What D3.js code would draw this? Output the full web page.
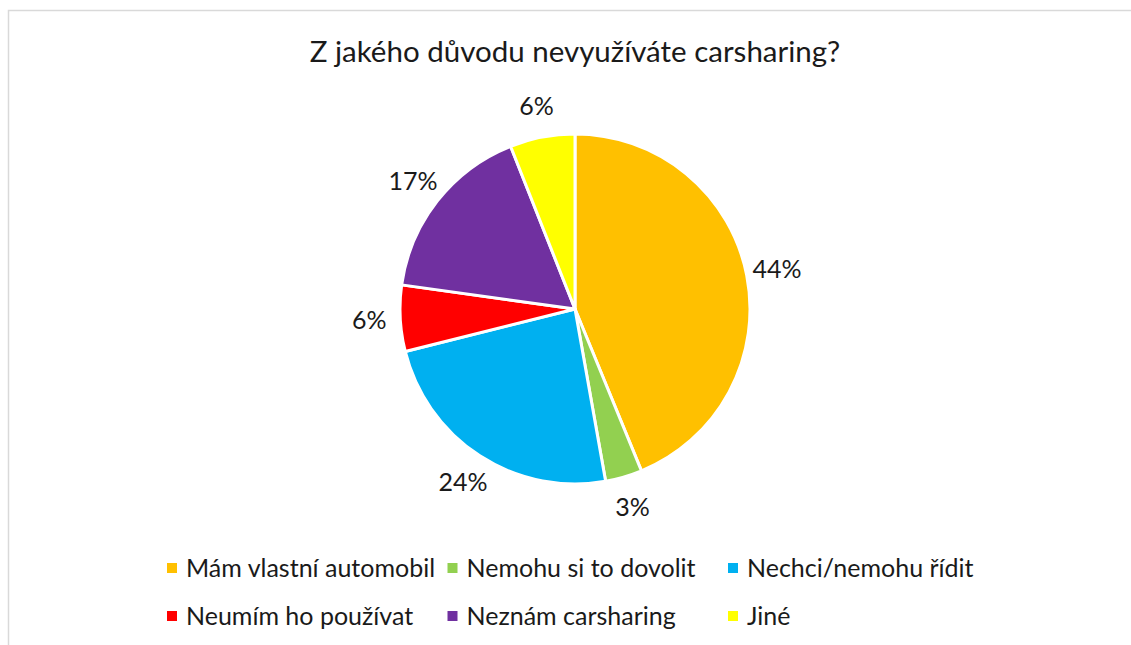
<!DOCTYPE html>
<html>
<head>
<meta charset="utf-8">
<script src="https://cdn.jsdelivr.net/npm/d3@7"></script>
<style>
  html, body { margin: 0; padding: 0; background: #fff; }
  svg { display: block; font-family: Lato, "Open Sans", sans-serif; }
</style>
</head>
<body>
<svg id="chart" width="1131" height="645"></svg>
<script>
const title = "Z jakého důvodu nevyužíváte carsharing?";
const categories = ["Mám vlastní automobil", "Nemohu si to dovolit", "Nechci/nemohu řídit",
                    "Neumím ho používat", "Neznám carsharing", "Jiné"];
const values = [43.8, 3.4, 23.9, 6.1, 16.8, 6.0];
const colors = ["#ffc000", "#92d050", "#00b0f0", "#ff0000", "#7030a0", "#ffff00"];

const w = 1131, h = 645;
const cx = 575, cy = 309, radius = 175;

const svg = d3.select("#chart");

// chart frame (only left and top edges are visible in the crop)
svg.append("rect")
  .attr("x", 8.5).attr("y", 10.5)
  .attr("width", w + 20).attr("height", h + 20)
  .attr("fill", "none")
  .attr("stroke", "#d9d9d9")
  .attr("stroke-width", 1.5);

svg.append("text")
  .attr("x", cx).attr("y", 62)
  .attr("text-anchor", "middle")
  .style("font-size", "29.5px")
  .style("fill", "#1a1a1a")
  .text(title);

const data = categories.map((c, i) => ({ name: c, value: values[i], color: colors[i] }));

const pie = d3.pie().sort(null).value(d => d.value);
const arcs = pie(data);

const arc = d3.arc().innerRadius(0).outerRadius(radius);
const labelArc = d3.arc().innerRadius(206).outerRadius(206);

const g = svg.append("g").attr("transform", `translate(${cx},${cy})`);

g.selectAll("path")
  .data(arcs)
  .enter()
  .append("path")
  .attr("d", arc)
  .attr("fill", d => d.data.color)
  .attr("stroke", "#fff")
  .attr("stroke-width", 3)
  .attr("stroke-linejoin", "round");

g.selectAll("text.lbl")
  .data(arcs)
  .enter()
  .append("text")
  .attr("class", "lbl")
  .attr("transform", d => `translate(${labelArc.centroid(d)})`)
  .attr("text-anchor", "middle")
  .attr("dy", "0.35em")
  .style("font-size", "25px")
  .style("fill", "#1a1a1a")
  .text(d => Math.round(d.data.value) + "%");

// legend: 3 columns, 2 rows
const legX = d3.scalePoint().domain([0, 1, 2]).range([167, 728]);
const legY = d3.scalePoint().domain([0, 1]).range([568, 616]);

const leg = svg.append("g")
  .selectAll("g")
  .data(data)
  .enter()
  .append("g")
  .attr("transform", (d, i) => `translate(${legX(i % 3)},${legY(Math.floor(i / 3))})`);

leg.append("rect")
  .attr("x", 0).attr("y", -5)
  .attr("width", 10).attr("height", 10)
  .attr("fill", d => d.color);

leg.append("text")
  .attr("x", 19).attr("y", 0)
  .attr("dy", "0.35em")
  .style("font-size", "25px")
  .style("fill", "#1a1a1a")
  .text(d => d.name);
</script>
</body>
</html>
